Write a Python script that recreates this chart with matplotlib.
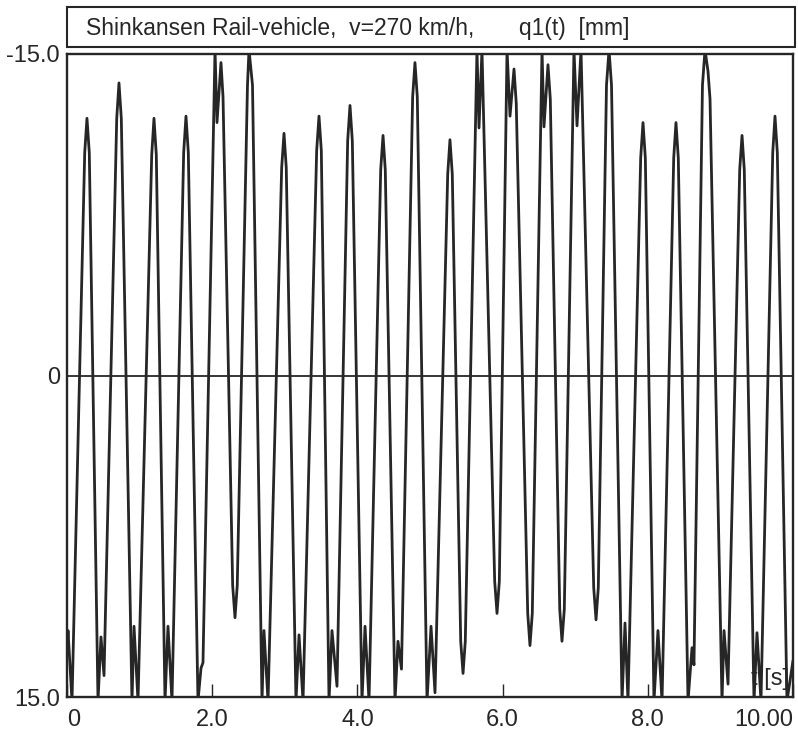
import matplotlib
matplotlib.use("Agg")
import matplotlib.pyplot as plt
from matplotlib.patches import Rectangle

# ---- data ----
title_text = "Shinkansen Rail-vehicle,  v=270 km/h,       q1(t)  [mm]"
x_ticks = [0, 2, 4, 6, 8, 10]
x_tick_labels = ["0", "2.0", "4.0", "6.0", "8.0", "10.00"]
y_ticks = [-15, 0, 15]
y_tick_labels = ["-15.0", "0", "15.0"]

# time [s] of curve vertices
t = [0.000, 0.014, 0.069,
     0.244, 0.275, 0.307,
     0.427, 0.468, 0.510,
     0.685, 0.716, 0.748,
     0.895, 0.923, 0.978,
     1.167, 1.198, 1.230,
     1.350, 1.391, 1.446,
     1.607, 1.639, 1.671,
     1.804, 1.846, 1.873,
     2.039, 2.066, 2.121, 2.149,
     2.282, 2.314, 2.345,
     2.486, 2.507, 2.555,
     2.686, 2.713, 2.769,
     2.957, 2.989, 3.020,
     3.154, 3.196, 3.251,
     3.439, 3.471, 3.503,
     3.609, 3.650, 3.719,
     3.866, 3.898, 3.930,
     4.063, 4.105, 4.160,
     4.321, 4.353, 4.384,
     4.518, 4.559, 4.607,
     4.761, 4.793, 4.825,
     4.959, 5.014, 5.069,
     5.244, 5.275, 5.307,
     5.423, 5.455, 5.486,
     5.647, 5.675, 5.716,
     5.891, 5.923, 5.955,
     6.061, 6.102, 6.157, 6.188,
     6.346, 6.377, 6.409,
     6.543, 6.570, 6.625, 6.657,
     6.787, 6.818, 6.850,
     6.983, 7.025, 7.080,
     7.255, 7.287, 7.318,
     7.431, 7.466, 7.500,
     7.645, 7.686, 7.727,
     7.902, 7.934, 7.966,
     8.085, 8.140, 8.196,
     8.357, 8.388, 8.420,
     8.554, 8.609, 8.636,
     8.753, 8.788, 8.829, 8.857,
     9.022, 9.050, 9.105,
     9.266, 9.298, 9.329,
     9.463, 9.504, 9.559,
     9.721, 9.752, 9.784,
     9.917, 10.000]

# displacement q1 [mm] at those vertices (values beyond +-15 are clipped by the frame)
q1 = [12.9, 11.9, 15.2,
      -10.4, -12.0, -10.4,
      15.2, 12.2, 14.0,
      -12.0, -13.65, -12.0,
      15.2, 11.7, 15.2,
      -10.3, -12.0, -10.3,
      15.2, 11.7, 15.2,
      -10.4, -12.1, -10.4,
      15.2, 13.65, 13.4,
      -15.2, -11.8, -14.6, -13.0,
      9.8, 11.3, 9.8,
      -13.55, -15.2, -13.55,
      15.2, 11.9, 15.2,
      -9.7, -11.3, -9.7,
      15.2, 12.1, 15.2,
      -10.5, -12.1, -10.5,
      15.2, 11.9, 14.5,
      -10.95, -12.6, -10.95,
      15.2, 11.7, 15.2,
      -9.6, -11.2, -9.6,
      15.2, 12.4, 13.7,
      -13.0, -14.6, -13.0,
      15.2, 11.7, 14.8,
      -9.4, -11.0, -9.4,
      12.4, 13.9, 12.4,
      -15.2, -11.55, -15.2,
      9.6, 11.1, 9.6,
      -15.2, -12.1, -14.3, -12.7,
      11.1, 12.6, 11.1,
      -15.2, -11.6, -14.5, -12.9,
      10.9, 12.4, 10.9,
      -15.2, -11.65, -15.2,
      9.9, 11.4, 9.9,
      -13.55, -15.2, -13.55,
      15.2, 11.55, 15.2,
      -10.15, -11.8, -10.15,
      15.2, 11.9, 15.2,
      -10.15, -11.8, -10.15,
      15.2, 12.7, 13.5,
      -13.55, -15.2, -14.2, -12.9,
      15.2, 11.9, 14.4,
      -9.6, -11.2, -9.6,
      15.2, 12.0, 15.2,
      -10.4, -12.1, -10.4,
      15.2, 13.3]

# ---- figure ----
W, H = 798, 735
fig = plt.figure(figsize=(W / 100, H / 100), dpi=100)
fig.patch.set_facecolor("white")
plt.rcParams["font.family"] = ["Liberation Sans", "DejaVu Sans"]

dark = "#262626"
ax = fig.add_axes([67 / W, (H - 697) / H, 726 / W, 643 / H])
ax.plot(t, q1, color=dark, lw=2.0, solid_joinstyle="round", solid_capstyle="round")
ax.axhline(0, color=dark, lw=1.3)
ax.set_xlim(0, 10)
ax.set_ylim(15, -15)

ax.set_xticks(x_ticks)
ax.set_xticklabels(x_tick_labels)
ax.set_yticks(y_ticks)
ax.set_yticklabels(y_tick_labels)
ax.tick_params(axis="x", direction="in", length=9.5, width=1.0, color=dark,
               labelsize=17, labelcolor=dark, pad=9)
ax.tick_params(axis="y", length=0, labelsize=17, labelcolor=dark, pad=5)
xl = ax.get_xticklabels()
xl[0].set_horizontalalignment("left")
xl[-1].set_horizontalalignment("right")
for sp in ax.spines.values():
    sp.set_color(dark)
    sp.set_linewidth(1.7)

ax.text(0.995, 0.028, "t [s]", transform=ax.transAxes, ha="right", va="center",
        fontsize=17, color=dark)

# title box
box = Rectangle((67 / W, (H - 47) / H), 728 / W, 40 / H, transform=fig.transFigure,
                facecolor="white", edgecolor=dark, lw=1.5)
fig.add_artist(box)
fig.text(86 / W, (H - 28) / H, title_text, ha="left", va="center",
         fontsize=16.5, color=dark)

fig.savefig("out.png", dpi=100, facecolor="white")
